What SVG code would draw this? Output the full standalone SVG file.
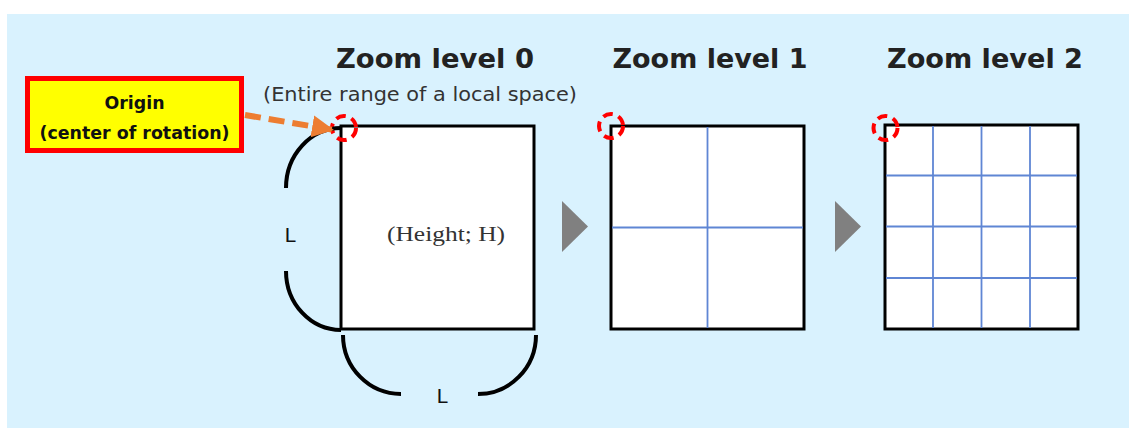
<svg xmlns="http://www.w3.org/2000/svg" width="1129" height="428" viewBox="0 0 1129 428">
<style>
.title{font-family:"DejaVu Sans",sans-serif;font-weight:bold;font-size:27px;fill:#222;text-anchor:middle}
.sub{font-family:"DejaVu Sans",sans-serif;font-size:19px;fill:#333}
.lbl{font-family:"DejaVu Sans",sans-serif;font-size:20px;fill:#111;text-anchor:middle}
.box{fill:#fff;stroke:#000;stroke-width:3}
.grid{stroke:#5f86d4;stroke-width:1.8;fill:none}
.origin{fill:none;stroke:#ff0000;stroke-width:4;stroke-dasharray:10 6}
.arc{fill:none;stroke:#000;stroke-width:4}
.tri{fill:#808080}
</style>
<defs>
<marker id="ah" markerUnits="userSpaceOnUse" markerWidth="24" markerHeight="24" refX="22" refY="12" orient="auto">
<path d="M0,1 L22,12 L0,23 Z" fill="#ed7d31"/>
</marker>
</defs>
<rect x="7" y="14" width="1122" height="414" fill="#d9f2fe"/>

<g id="titles">
<text class="title" x="435" y="68" textLength="198" lengthAdjust="spacingAndGlyphs">Zoom level 0</text>
<text class="title" x="710" y="68" textLength="195" lengthAdjust="spacingAndGlyphs">Zoom level 1</text>
<text class="title" x="985" y="68" textLength="196" lengthAdjust="spacingAndGlyphs">Zoom level 2</text>
<text class="sub" x="263" y="101" textLength="314" lengthAdjust="spacingAndGlyphs">(Entire range of a local space)</text>
</g>

<g id="origin-label">
<rect x="27.5" y="78.5" width="214" height="72" fill="#ffff00" stroke="#ff0000" stroke-width="5"/>
<text x="134.5" y="109" font-family="DejaVu Sans, sans-serif" font-weight="bold" font-size="17.5" fill="#111" text-anchor="middle" textLength="60" lengthAdjust="spacingAndGlyphs">Origin</text>
<text x="134.5" y="139" font-family="DejaVu Sans, sans-serif" font-weight="bold" font-size="17.5" fill="#111" text-anchor="middle" textLength="190" lengthAdjust="spacingAndGlyphs">(center of rotation)</text>
</g>

<g id="level0">
<rect class="box" x="341" y="126" width="193" height="203"/>
<text x="446" y="241" font-family="Liberation Serif, serif" font-size="22" fill="#333" text-anchor="middle" textLength="118" lengthAdjust="spacingAndGlyphs">(Height; H)</text>
<circle class="origin" cx="344" cy="128" r="12"/>
</g>

<g id="level1">
<rect class="box" x="611" y="126" width="193" height="203"/>
<line class="grid" x1="707.5" y1="127" x2="707.5" y2="328"/>
<line class="grid" x1="612" y1="227.5" x2="803" y2="227.5"/>
<circle class="origin" cx="611" cy="126" r="12"/>
</g>

<g id="level2">
<rect class="box" x="885" y="125" width="193" height="204"/>
<line class="grid" x1="933" y1="126" x2="933" y2="328"/>
<line class="grid" x1="981.5" y1="126" x2="981.5" y2="328"/>
<line class="grid" x1="1030" y1="126" x2="1030" y2="328"/>
<line class="grid" x1="886" y1="175.5" x2="1077" y2="175.5"/>
<line class="grid" x1="886" y1="226.5" x2="1077" y2="226.5"/>
<line class="grid" x1="886" y1="278" x2="1077" y2="278"/>
<circle class="origin" cx="885.5" cy="128" r="12"/>
</g>

<g id="dimensions">
<path class="arc" d="M341,128 A55,60 0 0 0 286,188"/>
<path class="arc" d="M286,271 A55,59 0 0 0 341,330"/>
<text class="lbl" x="290" y="242">L</text>
<path class="arc" d="M343,335 A58,59 0 0 0 401,394"/>
<path class="arc" d="M478,394 A58,59 0 0 0 536,335"/>
<text class="lbl" x="442" y="403">L</text>
</g>

<g id="connectors">
<line x1="245" y1="115" x2="334" y2="130" stroke="#ed7d31" stroke-width="6" stroke-dasharray="16 8" marker-end="url(#ah)"/>
<polygon class="tri" points="562,201 588,226.5 562,252"/>
<polygon class="tri" points="835,201 861,226.5 835,252"/>
</g>
</svg>
